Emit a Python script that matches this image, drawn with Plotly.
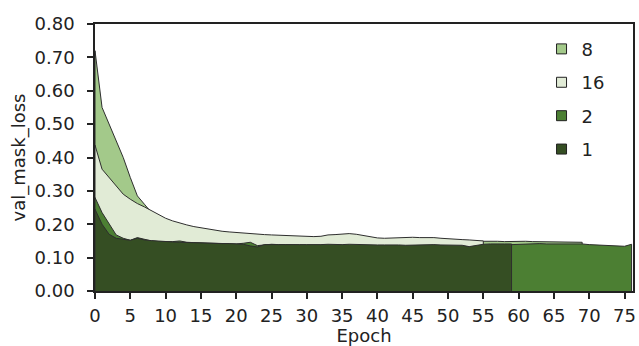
import plotly.graph_objects as go

# ---- data ----
series_names = ["8", "16", "2", "1"]

loss_8 = [0.72, 0.55, 0.50, 0.45, 0.40, 0.34, 0.285, 0.26, 0.235, 0.22,
          0.21, 0.20, 0.193, 0.188, 0.183, 0.18, 0.176, 0.173, 0.171, 0.169,
          0.167, 0.165, 0.163, 0.162, 0.161, 0.160, 0.160, 0.159, 0.158, 0.158,
          0.157, 0.157, 0.156, 0.158, 0.157, 0.158, 0.157, 0.156, 0.155, 0.154,
          0.154, 0.153, 0.153, 0.152, 0.153, 0.152, 0.151, 0.152, 0.151, 0.150,
          0.150, 0.149, 0.150, 0.149, 0.148, 0.149, 0.150, 0.149, 0.148, 0.149,
          0.150, 0.149, 0.148, 0.148, 0.147, 0.148, 0.147, 0.147, 0.146, 0.146]

loss_16 = [0.437, 0.365, 0.34, 0.315, 0.29, 0.275, 0.262, 0.252, 0.24, 0.228,
           0.218, 0.21, 0.203, 0.198, 0.193, 0.189, 0.185, 0.182, 0.179, 0.177,
           0.175, 0.173, 0.171, 0.170, 0.169, 0.168, 0.167, 0.166, 0.166, 0.165,
           0.164, 0.163, 0.164, 0.168, 0.169, 0.171, 0.172, 0.170, 0.166, 0.162,
           0.159, 0.158, 0.159, 0.161, 0.162, 0.161, 0.160, 0.161, 0.160, 0.158,
           0.156, 0.155, 0.154, 0.153, 0.151, 0.150]

loss_2 = [0.28, 0.235, 0.20, 0.168, 0.158, 0.152, 0.16, 0.155, 0.15, 0.148,
          0.147, 0.148, 0.15, 0.146, 0.145, 0.144, 0.143, 0.142, 0.142, 0.142,
          0.141, 0.143, 0.146, 0.136, 0.139, 0.14, 0.139, 0.138, 0.138, 0.137,
          0.137, 0.137, 0.136, 0.136, 0.136, 0.136, 0.135, 0.135, 0.135, 0.135,
          0.134, 0.134, 0.134, 0.134, 0.134, 0.133, 0.133, 0.133, 0.133, 0.132,
          0.132, 0.132, 0.133, 0.131, 0.131, 0.134, 0.136, 0.137, 0.138, 0.139,
          0.14, 0.141, 0.142, 0.142, 0.141, 0.141, 0.142, 0.141, 0.142, 0.141,
          0.139, 0.138, 0.138, 0.136, 0.135, 0.134, 0.14]

loss_1 = [0.245, 0.20, 0.17, 0.158, 0.155, 0.152, 0.158, 0.153, 0.151, 0.149,
          0.148, 0.147, 0.146, 0.145, 0.145, 0.144, 0.143, 0.143, 0.142, 0.142,
          0.141, 0.140, 0.135, 0.132, 0.139, 0.140, 0.139, 0.139, 0.140, 0.139,
          0.139, 0.138, 0.139, 0.140, 0.139, 0.139, 0.140, 0.139, 0.138, 0.139,
          0.138, 0.138, 0.139, 0.138, 0.137, 0.138, 0.137, 0.138, 0.139, 0.138,
          0.138, 0.139, 0.137, 0.133, 0.137, 0.140, 0.141, 0.140, 0.141, 0.141]

series_values = [loss_8, loss_16, loss_2, loss_1]
colors = ["#a3c98a", "#e1ebd6", "#4c7f33", "#354e23"]

x_ticks = list(range(0, 80, 5))
y_ticks = [0.0, 0.1, 0.2, 0.3, 0.4, 0.5, 0.6, 0.7, 0.8]

FONT = "DejaVu Sans"
FS = 18

fig = go.Figure()

# area polygons (closed down to zero)
for name, vals, col in zip(series_names, series_values, colors):
    epochs = list(range(len(vals)))
    xs = [0] + epochs + [epochs[-1]]
    ys = [0] + vals + [0]
    fig.add_trace(go.Scatter(
        x=xs, y=ys, mode="lines", fill="toself", fillcolor=col,
        line=dict(color="#2e2e2e", width=1), showlegend=False,
        hoverinfo="skip"))

# legend entries
for i, (name, col) in enumerate(zip(series_names, colors)):
    fig.add_trace(go.Scatter(
        x=[None], y=[None], mode="markers", name=name,
        legendgroup="g%d" % i,
        marker=dict(symbol="square", size=10, color=col,
                    line=dict(color="#222222", width=1))))

fig.update_layout(
    width=639, height=346,
    margin=dict(l=95, r=6, t=24, b=55),
    plot_bgcolor="white", paper_bgcolor="white",
    font=dict(family=FONT, size=FS, color="#222222"),
    showlegend=True,
    legend=dict(x=0.83, y=0.975, xanchor="left", yanchor="top",
                bgcolor="rgba(0,0,0,0)", font=dict(size=FS),
                tracegroupgap=7, itemwidth=30),
    xaxis=dict(range=[0, 76.2], tickvals=x_ticks, automargin=False,
               ticks="outside", ticklen=6, tickwidth=1.5, tickcolor="#222222",
               showline=True, linecolor="#222222", linewidth=1.5, mirror=True,
               showgrid=False, zeroline=False, ticklabelstandoff=2,
               title=dict(text="Epoch", standoff=6, font=dict(size=FS))),
    yaxis=dict(range=[0, 0.8], tickvals=y_ticks, tickformat=".2f", automargin=False,
               ticks="outside", ticklen=6, tickwidth=1.5, tickcolor="#222222",
               showline=True, linecolor="#222222", linewidth=1.5, mirror=True,
               showgrid=False, zeroline=False, ticklabelstandoff=9,
               title=dict(text="val_mask_loss", standoff=4, font=dict(size=FS))),
)

fig.write_html("out.html")
